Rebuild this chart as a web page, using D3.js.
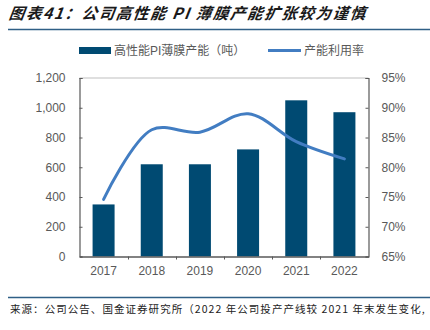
<!DOCTYPE html>
<html><head><meta charset="utf-8">
<script src="https://cdn.jsdelivr.net/npm/d3@7"></script>
<style>body{margin:0;background:#fff}svg{display:block}</style>
</head><body>
<svg id="c" width="430" height="330"></svg>
<script>
const categories = ["2017","2018","2019","2020","2021","2022"];
const capacity = [350, 620, 620, 720, 1050, 970];
const utilization = [74.6, 86.3, 85.9, 89.0, 84.3, 81.4];
const leftTicks = [0, 200, 400, 600, 800, 1000, 1200];
const rightTicks = [65, 70, 75, 80, 85, 90, 95];
const seriesNames = ["高性能PI薄膜产能（吨）", "产能利用率"];
const title = "图表41：公司高性能 PI 薄膜产能扩张较为谨慎";
const source = "来源：公司公告、国金证券研究所（2022 年公司投产产线较 2021 年末发生变化,";

const svg = d3.select("#c");
const L = 79.5, R = 368.5, T = 78, B = 256.5;
const font = "Liberation Sans, Arial, Noto Sans CJK SC, sans-serif";
const grey = "#595959";

svg.append("text").attr("x", 9).attr("y", 19).text(title)
  .attr("font-family", "Noto Sans CJK SC, sans-serif").attr("font-size", 15.5)
  .attr("font-weight", "bold").attr("font-style", "italic").attr("fill", "#1a1a1a")
  .attr("letter-spacing", 1.6)
  .attr("transform", "skewX(-8) translate(2,0)");
svg.append("line").attr("x1", 8).attr("x2", 430).attr("y1", 29.5).attr("y2", 29.5)
  .attr("stroke", "#2f5f86").attr("stroke-width", 1.5);
svg.append("line").attr("x1", 8).attr("x2", 430).attr("y1", 297.5).attr("y2", 297.5)
  .attr("stroke", "#2f5f86").attr("stroke-width", 1.5);
svg.append("text").attr("x", 10).attr("y", 313).text(source)
  .attr("font-family", "Noto Sans CJK SC, sans-serif").attr("font-size", 10.5).attr("fill", "#222")
  .attr("letter-spacing", 1.05);

const xb = d3.scaleBand().domain(categories).range([L, R]);
const yL = d3.scaleLinear().domain([0, 1200]).range([B, T]);
const yR = d3.scaleLinear().domain([65, 95]).range([B, T]);

// top border
svg.append("line").attr("x1", L).attr("x2", R).attr("y1", T).attr("y2", T).attr("stroke", "#bfbfbf");

svg.selectAll("rect.bar").data(capacity).enter().append("rect").attr("class", "bar")
  .attr("x", (d, i) => xb(categories[i]) + xb.bandwidth() / 2 - 11)
  .attr("width", 22)
  .attr("y", d => yL(d)).attr("height", d => yL(0) - yL(d))
  .attr("fill", "#004a72");

const line = d3.line().x((d, i) => xb(categories[i]) + xb.bandwidth() / 2).y(d => yR(d))
  .curve(d3.curveCatmullRom.alpha(0.5));
svg.append("path").datum(utilization).attr("d", line).attr("fill", "none")
  .attr("stroke", "#427dc2").attr("stroke-width", 3).attr("stroke-linecap", "round");

// axes
const gl = svg.append("g").attr("transform", `translate(${L},0)`)
  .call(d3.axisLeft(yL).tickValues(leftTicks).tickSize(-3).tickPadding(14).tickFormat(d3.format(",")));
const gr = svg.append("g").attr("transform", `translate(${R},0)`)
  .call(d3.axisRight(yR).tickValues(rightTicks).tickSize(-3).tickPadding(13).tickFormat(d => d + "%"));
const gb = svg.append("g").attr("transform", `translate(0,${B})`)
  .call(d3.axisBottom(xb).tickSize(0).tickPadding(10));
// x tick marks between categories
svg.append("g").selectAll("line").data(categories.slice(1)).enter().append("line")
  .attr("x1", d => Math.round(xb(d)) + 0.5).attr("x2", d => Math.round(xb(d)) + 0.5)
  .attr("y1", B).attr("y2", B + 3).attr("stroke", "#595959");
[gl, gr, gb].forEach(g => {
  g.selectAll("path.domain").attr("stroke", "#595959").attr("stroke-width", 1.2);
  g.selectAll("line").attr("stroke", "#595959");
  g.selectAll("text").attr("font-family", font).attr("font-size", 12).attr("fill", grey);
});
gb.select("path.domain").attr("stroke-width", 1.5);

// legend
const lg = svg.append("g");
lg.append("rect").attr("x", 79).attr("y", 47).attr("width", 32).attr("height", 7).attr("fill", "#004a72");
lg.append("text").attr("x", 114).attr("y", 55).text(seriesNames[0])
  .attr("font-family", font).attr("font-size", 12).attr("fill", grey);
lg.append("line").attr("x1", 268).attr("x2", 301).attr("y1", 50.5).attr("y2", 50.5)
  .attr("stroke", "#427dc2").attr("stroke-width", 3);
lg.append("text").attr("x", 304).attr("y", 55).text(seriesNames[1])
  .attr("font-family", font).attr("font-size", 12).attr("fill", grey);
</script>
</body></html>
